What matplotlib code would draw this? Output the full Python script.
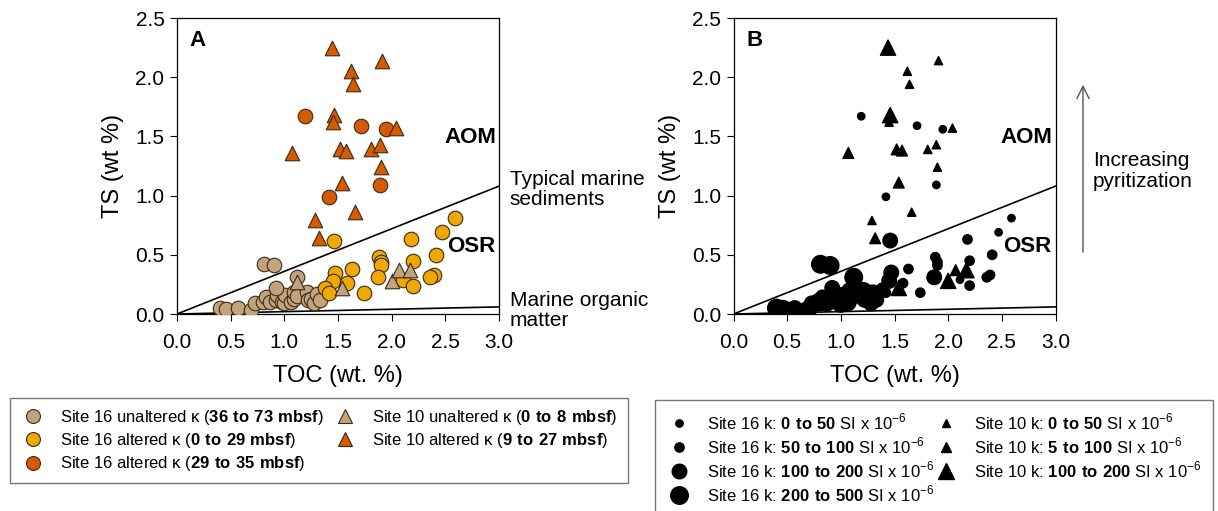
import numpy as np
import matplotlib
matplotlib.use('Agg')
import matplotlib.pyplot as plt
from matplotlib.lines import Line2D

plt.rcParams['font.family'] = ['Liberation Sans', 'DejaVu Sans']
plt.rcParams['mathtext.fontset'] = 'custom'
plt.rcParams['mathtext.rm'] = 'Liberation Sans'
plt.rcParams['mathtext.bf'] = 'Liberation Sans:bold'

# Site 16 unaltered (36 to 73 mbsf)
toc16u = [0.40, 0.46, 0.57, 0.69, 0.73, 0.80, 0.83, 0.87, 0.92, 0.93, 0.98, 1.00, 1.01,
          1.06, 1.09, 1.09, 1.12, 1.21, 1.22, 1.25, 1.28, 1.30, 1.33, 0.81, 0.90, 0.92, 1.12]
ts16u = [0.05, 0.04, 0.05, 0.03, 0.09, 0.10, 0.14, 0.10, 0.12, 0.16, 0.10, 0.09, 0.16,
         0.10, 0.13, 0.19, 0.15, 0.19, 0.12, 0.13, 0.09, 0.17, 0.12, 0.42, 0.41, 0.22, 0.31]
k16u = [3, 3, 2, 3, 2, 3, 2, 3, 2, 3, 2, 3, 2, 3, 2, 3, 2, 3, 2, 3, 2, 3, 2, 3, 3, 2, 3]

# Site 16 altered (0 to 29 mbsf)
toc16a = [1.46, 1.47, 1.45, 1.38, 1.42, 1.63, 1.58, 1.74, 1.88, 1.90, 1.90, 1.87, 2.18,
          2.20, 2.11, 2.20, 2.41, 2.39, 2.36, 2.47, 2.59]
ts16a = [0.62, 0.35, 0.28, 0.22, 0.18, 0.38, 0.26, 0.18, 0.48, 0.44, 0.41, 0.31, 0.63,
         0.45, 0.29, 0.24, 0.50, 0.33, 0.31, 0.69, 0.81]
k16a = [2, 2, 2, 1, 1, 1, 1, 1, 1, 1, 1, 2, 1, 1, 0, 1, 1, 1, 1, 0, 0]

# Site 16 altered (29 to 35 mbsf)
toc16b = [1.19, 1.71, 1.95, 1.89, 1.42]
ts16b = [1.67, 1.59, 1.56, 1.09, 0.99]
k16b = [0, 0, 0, 0, 0]

# Site 10 unaltered (0 to 8 mbsf)
toc10u = [1.12, 1.54, 2.00, 2.07, 2.17]
ts10u = [0.27, 0.22, 0.28, 0.37, 0.37]
k10u = [1, 2, 2, 1, 2]

# Site 10 altered (9 to 27 mbsf)
toc10a = [1.44, 1.91, 1.62, 1.64, 1.46, 1.45, 2.04, 1.07, 1.52, 1.57, 1.81, 1.89, 1.90,
          1.54, 1.66, 1.29, 1.32]
ts10a = [2.25, 2.14, 2.05, 1.94, 1.68, 1.62, 1.57, 1.36, 1.39, 1.38, 1.39, 1.43, 1.24,
         1.11, 0.86, 0.79, 0.64]
k10a = [2, 0, 0, 0, 2, 0, 0, 1, 1, 1, 0, 0, 0, 1, 0, 0, 1]

# reference lines TS/TOC
slope_marine = 0.36
slope_org = 0.02

c_tan = '#C2A47C'
c_yel = '#EFA800'
c_org = '#D65A00'
circ_sizes = [28, 45, 110, 160]
tri_sizes = [35, 60, 120]

fw, fh = 12.18, 5.11
fig = plt.figure(figsize=(fw, fh), dpi=100)
axA = fig.add_axes([177/1218, 1-314/511, 322/1218, 296/511])
axB = fig.add_axes([733.5/1218, 1-314/511, 322/1218, 296/511])

series = [
    (toc16u, ts16u, k16u, 'o', c_tan),
    (toc16a, ts16a, k16a, 'o', c_yel),
    (toc16b, ts16b, k16b, 'o', c_org),
    (toc10u, ts10u, k10u, '^', c_tan),
    (toc10a, ts10a, k10a, '^', c_org),
]

xx = np.array([0, 3.0])
for ax in (axA, axB):
    ax.plot(xx, slope_marine*xx, color='black', lw=1.2, zorder=1)
    ax.plot(xx, slope_org*xx, color='black', lw=1.2, zorder=1)
    ax.set_xlim(0, 3.0)
    ax.set_ylim(0, 2.5)
    ax.set_xticks(np.arange(0, 3.01, 0.5))
    ax.set_yticks(np.arange(0, 2.51, 0.5))
    ax.set_xticklabels(['%.1f' % v for v in np.arange(0, 3.01, 0.5)])
    ax.set_yticklabels(['%.1f' % v for v in np.arange(0, 2.51, 0.5)])
    ax.tick_params(direction='out', length=5, labelsize=15)
    ax.tick_params(axis='x', pad=9)
    ax.tick_params(axis='y', pad=4)
    ax.set_xlabel('TOC (wt. %)', fontsize=17, labelpad=9)
    ax.set_ylabel('TS (wt %)', fontsize=17, labelpad=8)
    for s in ax.spines.values():
        s.set_linewidth(0.9)
    ax.text(2.73, 1.49, 'AOM', fontsize=16, fontweight='bold', ha='center', va='center')
    ax.text(2.74, 0.57, 'OSR', fontsize=16, fontweight='bold', ha='center', va='center')

for x, y, k, m, c in series:
    axA.scatter(x, y, s=110, marker=m, facecolor=c, edgecolor='#3a2a1a', linewidth=0.8, zorder=3)
    sz = [circ_sizes[i] for i in k] if m == 'o' else [tri_sizes[i] for i in k]
    axB.scatter(x, y, s=sz, marker=m, color='black', zorder=3)

axA.text(0.12, 2.31, 'A', fontsize=16, fontweight='bold', va='center')
axB.text(0.12, 2.31, 'B', fontsize=16, fontweight='bold', va='center')

axA.text(3.1, 1.05, 'Typical marine\nsediments', fontsize=15, va='center', ha='left',
         linespacing=1.05, clip_on=False)
axA.text(3.1, 0.03, 'Marine organic\nmatter', fontsize=15, va='center', ha='left',
         linespacing=1.05, clip_on=False)

# pyritization arrow
axB.annotate('', xy=(1083/1218, 1-82/511), xytext=(1083/1218, 1-255/511),
             xycoords='figure fraction', textcoords='figure fraction',
             arrowprops=dict(arrowstyle='->', color='#555555', lw=1, mutation_scale=22))
fig.text(1093/1218, 1-171/511, 'Increasing\npyritization', fontsize=15, va='center',
         ha='left', linespacing=1.1)

# legend A
ec = '#3a2a1a'
hA = [
    Line2D([], [], ls='', marker='o', ms=10, mfc=c_tan, mec=ec, mew=0.8),
    Line2D([], [], ls='', marker='o', ms=10, mfc=c_yel, mec=ec, mew=0.8),
    Line2D([], [], ls='', marker='o', ms=10, mfc=c_org, mec=ec, mew=0.8),
    Line2D([], [], ls='', marker='^', ms=10, mfc=c_tan, mec=ec, mew=0.8),
    Line2D([], [], ls='', marker='^', ms=10, mfc=c_org, mec=ec, mew=0.8),
]
lA = [
    r'Site 16 unaltered κ ($\mathbf{36\ to\ 73\ mbsf}$)',
    r'Site 16 altered κ ($\mathbf{0\ to\ 29\ mbsf}$)',
    r'Site 16 altered κ ($\mathbf{29\ to\ 35\ mbsf}$)',
    r'Site 10 unaltered κ ($\mathbf{0\ to\ 8\ mbsf}$)',
    r'Site 10 altered κ ($\mathbf{9\ to\ 27\ mbsf}$)',
]
legA = fig.legend(hA, lA, loc='upper left', bbox_to_anchor=(10/1218, 1-398/511), ncol=2,
                  fontsize=12, frameon=True, fancybox=False, edgecolor='#555555',
                  handletextpad=0.9, columnspacing=0.5, labelspacing=0.25,
                  borderpad=0.6, handlelength=1.5, borderaxespad=0)
legA.get_frame().set_linewidth(1.0)

# legend B
hB = [Line2D([], [], ls='', marker='o', ms=np.sqrt(s), color='black') for s in circ_sizes]
hB += [Line2D([], [], ls='', marker='^', ms=np.sqrt(s), color='black') for s in tri_sizes]
lB = [
    r'Site 16 k: $\mathbf{0\ to\ 50}$ SI x 10$^{-6}$',
    r'Site 16 k: $\mathbf{50\ to\ 100}$ SI x 10$^{-6}$',
    r'Site 16 k: $\mathbf{100\ to\ 200}$ SI x 10$^{-6}$',
    r'Site 16 k: $\mathbf{200\ to\ 500}$ SI x 10$^{-6}$',
    r'Site 10 k: $\mathbf{0\ to\ 50}$ SI x 10$^{-6}$',
    r'Site 10 k: $\mathbf{5\ to\ 100}$ SI x 10$^{-6}$',
    r'Site 10 k: $\mathbf{100\ to\ 200}$ SI x 10$^{-6}$',
]
legB = fig.legend(hB, lB, loc='upper left', bbox_to_anchor=(655/1218, 1-400/511), ncol=2,
                  fontsize=12, frameon=True, fancybox=False, edgecolor='#555555',
                  handletextpad=0.9, columnspacing=0.0, labelspacing=0.2,
                  borderpad=0.7, handlelength=1.5, borderaxespad=0)
legB.get_frame().set_linewidth(1.0)

plt.savefig('out.png', dpi=100)
